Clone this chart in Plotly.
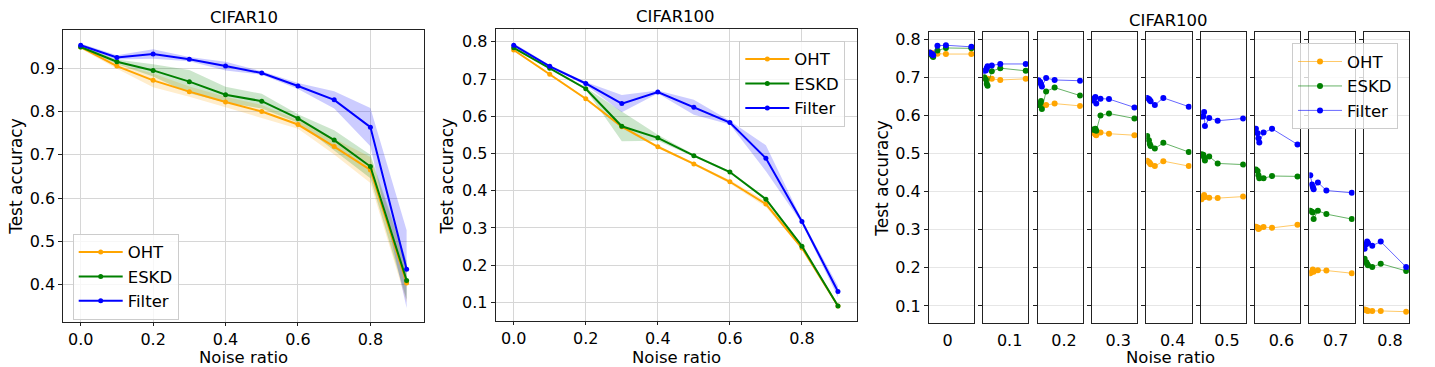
import plotly.graph_objects as go

# noise ratios on the x axis of the two line panels
noise = [0.0, 0.1, 0.2, 0.3, 0.4, 0.5, 0.6, 0.7, 0.8, 0.9]

# CIFAR10
c10_oht = [0.949, 0.905, 0.872, 0.846, 0.822, 0.800, 0.770, 0.719, 0.665, 0.404]
c10_oht_std = [0.004, 0.006, 0.016, 0.012, 0.012, 0.015, 0.010, 0.018, 0.030, 0.045]
c10_eskd = [0.949, 0.915, 0.895, 0.869, 0.839, 0.824, 0.784, 0.734, 0.673, 0.410]
c10_eskd_std = [0.003, 0.005, 0.014, 0.027, 0.018, 0.017, 0.010, 0.023, 0.027, 0.045]
c10_filter = [0.953, 0.925, 0.933, 0.921, 0.905, 0.889, 0.859, 0.827, 0.764, 0.436]
c10_filter_std = [0.004, 0.005, 0.011, 0.005, 0.010, 0.004, 0.007, 0.020, 0.044, 0.090]

# CIFAR100
c100_oht = [0.778, 0.713, 0.647, 0.572, 0.518, 0.472, 0.424, 0.364, 0.246, 0.090]
c100_oht_std = [0.003, 0.003, 0.003, 0.004, 0.003, 0.003, 0.005, 0.008, 0.004, 0.003]
c100_eskd = [0.784, 0.729, 0.674, 0.573, 0.542, 0.494, 0.450, 0.377, 0.251, 0.090]
c100_eskd_std = [0.003, 0.003, 0.003, 0.040, 0.008, 0.003, 0.003, 0.004, 0.004, 0.003]
c100_filter = [0.791, 0.734, 0.688, 0.634, 0.665, 0.624, 0.583, 0.487, 0.317, 0.129]
c100_filter_std = [0.005, 0.004, 0.004, 0.023, 0.004, 0.020, 0.005, 0.035, 0.005, 0.015]

# CIFAR100, one small panel per noise ratio
sweep_labels = ["0", "0.1", "0.2", "0.3", "0.4", "0.5", "0.6", "0.7", "0.8"]
sweep_steps = [1, 3, 4, 5, 10, 20, 50]
oht_sweep = [
    [0.765, 0.764, 0.763, 0.762, 0.762, 0.761, 0.761],
    [0.698, 0.697, 0.695, 0.696, 0.696, 0.693, 0.696],
    [0.630, 0.628, 0.626, 0.625, 0.627, 0.631, 0.625],
    [0.556, 0.553, 0.550, 0.548, 0.555, 0.552, 0.548],
    [0.481, 0.478, 0.475, 0.472, 0.467, 0.480, 0.467],
    [0.380, 0.385, 0.391, 0.386, 0.384, 0.383, 0.387],
    [0.308, 0.306, 0.302, 0.304, 0.307, 0.305, 0.313],
    [0.186, 0.190, 0.196, 0.190, 0.194, 0.193, 0.186],
    [0.091, 0.089, 0.088, 0.087, 0.087, 0.087, 0.085],
]
eskd_sweep = [
    [0.763, 0.760, 0.756, 0.753, 0.770, 0.777, 0.776],
    [0.700, 0.694, 0.683, 0.678, 0.716, 0.724, 0.717],
    [0.627, 0.632, 0.638, 0.617, 0.663, 0.673, 0.652],
    [0.563, 0.562, 0.565, 0.560, 0.600, 0.605, 0.592],
    [0.546, 0.535, 0.525, 0.520, 0.513, 0.528, 0.504],
    [0.498, 0.497, 0.490, 0.482, 0.492, 0.474, 0.471],
    [0.458, 0.454, 0.443, 0.435, 0.435, 0.441, 0.440],
    [0.350, 0.347, 0.345, 0.328, 0.350, 0.341, 0.328],
    [0.224, 0.215, 0.210, 0.207, 0.202, 0.211, 0.192],
]
filter_sweep = [
    [0.765, 0.762, 0.760, 0.758, 0.783, 0.784, 0.780],
    [0.717, 0.718, 0.724, 0.729, 0.731, 0.735, 0.735],
    [0.692, 0.688, 0.682, 0.676, 0.698, 0.693, 0.691],
    [0.639, 0.645, 0.648, 0.631, 0.644, 0.643, 0.621],
    [0.646, 0.643, 0.640, 0.637, 0.627, 0.646, 0.623],
    [0.597, 0.597, 0.609, 0.572, 0.593, 0.586, 0.592],
    [0.565, 0.553, 0.540, 0.529, 0.555, 0.565, 0.524],
    [0.443, 0.419, 0.412, 0.406, 0.424, 0.403, 0.397],
    [0.250, 0.262, 0.269, 0.265, 0.258, 0.269, 0.202],
]

W, H = 1435, 367
FONT = "DejaVu Sans"
rgb = {"OHT": (255, 165, 0), "ESKD": (0, 128, 0), "Filter": (0, 0, 255)}


def col(name, a=1.0):
    r, g, b = rgb[name]
    return f"rgba({r},{g},{b},{a})"


def px_x(x):
    return x / W


def px_y(y):
    return 1 - y / H


fig = go.Figure()


def add_band_panel(xa, ya, legend, series):
    for name, mean, std in series:
        lo = [m - s for m, s in zip(mean, std)]
        hi = [m + s for m, s in zip(mean, std)]
        fig.add_trace(go.Scatter(x=noise, y=lo, mode="lines", line=dict(width=0),
                                 xaxis=xa, yaxis=ya, showlegend=False, hoverinfo="skip"))
        fig.add_trace(go.Scatter(x=noise, y=hi, mode="lines", line=dict(width=0),
                                 fill="tonexty", fillcolor=col(name, 0.2),
                                 xaxis=xa, yaxis=ya, showlegend=False, hoverinfo="skip"))
    for name, mean, std in series:
        fig.add_trace(go.Scatter(x=noise, y=mean, mode="lines+markers", name=name,
                                 line=dict(color=col(name), width=2),
                                 marker=dict(color=col(name), size=5),
                                 xaxis=xa, yaxis=ya, legend=legend, legendgroup=name))


add_band_panel("x", "y", "legend", [("OHT", c10_oht, c10_oht_std),
                                    ("ESKD", c10_eskd, c10_eskd_std),
                                    ("Filter", c10_filter, c10_filter_std)])
add_band_panel("x2", "y2", "legend2", [("OHT", c100_oht, c100_oht_std),
                                       ("ESKD", c100_eskd, c100_eskd_std),
                                       ("Filter", c100_filter, c100_filter_std)])

for i in range(len(sweep_labels)):
    xa, ya = f"x{i + 3}", f"y{i + 3}"
    for name, data in [("OHT", oht_sweep), ("ESKD", eskd_sweep), ("Filter", filter_sweep)]:
        fig.add_trace(go.Scatter(x=sweep_steps, y=data[i], mode="lines+markers", name=name,
                                 line=dict(color=col(name, 0.6), width=1),
                                 marker=dict(color=col(name), size=6),
                                 xaxis=xa, yaxis=ya, legend="legend3", legendgroup=name,
                                 showlegend=(i == 0)))

frame = dict(showline=True, mirror=True, linecolor="#222", linewidth=1,
             ticks="outside", ticklen=4, tickcolor="#222", zeroline=False,
             tickfont=dict(size=16))

layout = {}
layout["xaxis"] = dict(frame, domain=[px_x(63.3), px_x(424)], range=[-0.048, 0.948],
                       tickvals=[0, 0.2, 0.4, 0.6, 0.8], tickformat=".1f", ticklen=3,
                       showgrid=True, gridcolor="#d6d6d6", anchor="y")
layout["yaxis"] = dict(frame, domain=[px_y(321.7), px_y(28.3)], range=[0.314, 0.988],
                       tickvals=[0.4, 0.5, 0.6, 0.7, 0.8, 0.9], tickformat=".1f",
                       showgrid=True, gridcolor="#d6d6d6", anchor="x")
layout["xaxis2"] = dict(frame, domain=[px_x(495.7), px_x(856.7)], range=[-0.05, 0.952],
                        tickvals=[0, 0.2, 0.4, 0.6, 0.8], tickformat=".1f", ticklen=3,
                        showgrid=True, gridcolor="#d6d6d6", anchor="y2")
layout["yaxis2"] = dict(frame, domain=[px_y(320.7), px_y(27.3)], range=[0.05, 0.834],
                        tickvals=[0.1, 0.2, 0.3, 0.4, 0.5, 0.6, 0.7, 0.8], tickformat=".1f",
                        showgrid=True, gridcolor="#d6d6d6", anchor="x2")

for i, lab in enumerate(sweep_labels):
    x0 = 928.9 + 54.35 * i
    layout[f"xaxis{i + 3}"] = dict(frame, domain=[px_x(x0), px_x(x0 + 45.2)],
                                   range=[-0.07, 53.2], tickvals=[22 if i == 0 else 31],
                                   ticktext=[lab], tickcolor="rgba(0,0,0,0)", ticklen=3,
                                   showgrid=False, anchor=f"y{i + 3}")
    layout[f"yaxis{i + 3}"] = dict(frame, domain=[px_y(323), px_y(30.5)],
                                   range=[0.0547, 0.818],
                                   tickvals=[0.1, 0.2, 0.3, 0.4, 0.5, 0.6, 0.7, 0.8],
                                   tickformat=".1f", showticklabels=(i == 0),
                                   showgrid=True, gridcolor="#e6e6e6", anchor=f"x{i + 3}")

leg = dict(font=dict(size=16.5, family=FONT), bgcolor="rgba(255,255,255,0.8)",
           bordercolor="#cccccc", borderwidth=1, xanchor="left", yanchor="top",
           itemwidth=44, tracegroupgap=1, traceorder="normal")
layout["legend"] = dict(leg, x=px_x(72.7), y=px_y(233))
layout["legend2"] = dict(leg, x=px_x(739.3), y=px_y(39))
layout["legend3"] = dict(leg, x=px_x(1292), y=px_y(41.5))

texts = [
    ("CIFAR10", 243.7, 15.3, 0, 16.5),
    ("CIFAR100", 675.7, 15.0, 0, 16.5),
    ("CIFAR100", 1168.8, 18.3, 0, 16.5),
    ("Noise ratio", 243.7, 357.5, 0, 16.5),
    ("Noise ratio", 676, 357.5, 0, 16.5),
    ("Noise ratio", 1170.4, 357.5, 0, 16.5),
    ("Test accuracy", 15.8, 175, -90, 17),
    ("Test accuracy", 447.5, 175, -90, 17),
    ("Test accuracy", 881.2, 177.5, -90, 17),
]
annotations = [dict(text=t, x=px_x(x), y=px_y(y), xref="paper", yref="paper",
                    xanchor="center", yanchor="middle", textangle=a, showarrow=False,
                    font=dict(size=s, family=FONT, color="black"))
               for t, x, y, a, s in texts]

fig.update_layout(**layout)
fig.update_layout(width=W, height=H, margin=dict(l=0, r=0, t=0, b=0),
                  plot_bgcolor="white", paper_bgcolor="white",
                  font=dict(family=FONT, color="black", size=16),
                  annotations=annotations, hovermode=False)

fig.write_html("out.html", config={"displayModeBar": False},
               post_script="document.body.style.margin='0';")
